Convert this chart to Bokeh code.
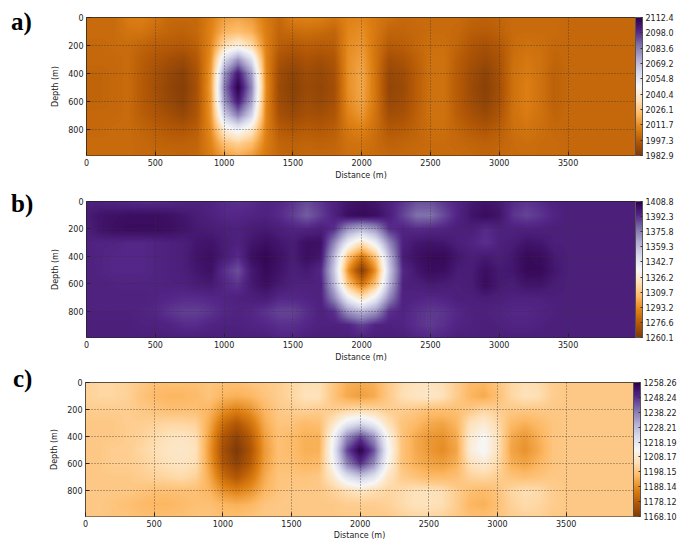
import numpy as np
from bokeh.plotting import figure
from bokeh.layouts import column, row
from bokeh.models import (Range1d, LinearColorMapper, ColorBar, FixedTicker,
                          PrintfTickFormatter, Div)
from bokeh.embed import file_html
from bokeh.resources import INLINE

# grid nodes (m)
distance_nodes = list(range(0, 4001, 100))   # 41 columns
depth_nodes = list(range(0, 1001, 100))      # 11 rows
x_ticks = [0, 500, 1000, 1500, 2000, 2500, 3000, 3500]
y_ticks = [0, 200, 400, 600, 800]

# panel a) values, one row per depth node
a_values = [
    [2002,2002,2002,2007,2008,2005,2001,2001,2001,2008,2016,2018,2015,2007,2001,2008,2009,2008,2005,2009,2010,2006,2003,2001,2002,2002,2002,2002,2000,1999,2000,2002,2002,2002,2002,2001,2001,2001,2001,2001,2001],
    [2002,2002,2002,2005,2005,2002,2000,1999,2001,2009,2021,2024,2020,2008,2000,2002,2003,2002,2000,2010,2012,2006,2000,2000,2001,2002,2002,2001,1998,1997,1999,2002,2002,2002,2002,2001,2001,2001,2001,2001,2001],
    [2001,2001,2002,2002,2000,1998,1997,1996,1999,2010,2034,2043,2033,2009,1998,1996,1998,1997,1998,2011,2014,2005,1997,1998,2001,2003,2003,2000,1995,1993,1996,2002,2004,2003,2001,2001,2001,2001,2001,2001,2001],
    [2001,2001,2001,2002,1998,1995,1992,1990,1996,2012,2060,2079,2058,2010,1994,1991,1994,1992,1995,2012,2016,2005,1992,1994,1999,2004,2004,1998,1993,1990,1994,2003,2006,2004,2000,2001,2001,2001,2001,2001,2001],
    [2000,2000,2001,2002,1997,1993,1989,1986,1994,2014,2079,2104,2076,2011,1991,1987,1991,1989,1993,2012,2018,2005,1989,1991,1998,2004,2004,1997,1991,1987,1993,2004,2007,2004,1999,2001,2001,2001,2001,2001,2001],
    [2000,2000,2001,2002,1997,1992,1988,1985,1993,2015,2085,2112,2082,2012,1990,1986,1990,1988,1992,2012,2018,2005,1988,1990,1998,2004,2004,1997,1990,1986,1992,2004,2008,2004,1999,2001,2001,2001,2001,2001,2001],
    [2000,2000,2001,2002,1997,1993,1989,1986,1994,2014,2079,2104,2076,2011,1991,1987,1991,1989,1993,2011,2017,2005,1989,1991,1998,2004,2004,1997,1991,1987,1993,2004,2008,2004,1999,2001,2001,2001,2001,2001,2001],
    [2001,2001,2001,2002,1998,1995,1992,1989,1995,2013,2064,2084,2062,2010,1993,1990,1993,1992,1995,2009,2014,2004,1992,1993,1999,2004,2004,1998,1993,1990,1995,2004,2007,2004,2000,2001,2001,2001,2001,2001,2001],
    [2001,2001,2002,2002,2000,1998,1996,1995,1998,2011,2042,2052,2040,2009,1997,1995,1997,1996,1998,2006,2009,2003,1996,1997,2000,2003,2003,2000,1997,1995,1998,2003,2005,2003,2001,2001,2001,2001,2001,2001,2001],
    [2002,2002,2002,2002,2001,2000,1999,1999,2000,2009,2025,2030,2024,2008,2000,1999,2000,1999,2000,2004,2005,2002,1999,2000,2001,2002,2002,2001,2000,1999,2000,2002,2003,2002,2002,2001,2001,2001,2001,2001,2001],
    [2002,2002,2002,2002,2001,2001,2001,2000,2001,2007,2015,2018,2014,2006,2001,2000,2001,2001,2001,2003,2003,2002,2001,2001,2002,2002,2002,2002,2001,2000,2001,2002,2002,2002,2002,2001,2001,2001,2001,2001,2001],
]
a_bar_ticks = [1982.9, 1997.3, 2011.7, 2026.1, 2040.4, 2054.8, 2069.2, 2083.6, 2098.0, 2112.4]

# panel b) values
b_values = [
    [1396,1396,1395,1394,1393,1393,1394,1395,1396,1395,1393,1392,1393,1395,1394,1391,1387,1391,1396,1400,1402,1400,1396,1391,1386,1386,1391,1395,1399,1401,1399,1393,1391,1393,1396,1397,1397,1397,1397,1397,1397],
    [1398,1401,1402,1403,1403,1403,1402,1400,1398,1396,1394,1394,1395,1396,1393,1389,1383,1389,1396,1403,1405,1403,1397,1388,1379,1379,1387,1395,1401,1404,1401,1391,1388,1391,1395,1397,1397,1397,1397,1397,1397],
    [1397,1401,1403,1404,1404,1404,1403,1401,1399,1398,1397,1396,1398,1399,1397,1395,1395,1397,1392,1370,1361,1370,1392,1395,1393,1394,1395,1397,1397,1393,1396,1396,1396,1396,1397,1397,1397,1397,1397,1397,1397],
    [1396,1395,1395,1394,1394,1395,1396,1397,1400,1401,1398,1396,1400,1403,1400,1398,1403,1402,1373,1340,1321,1340,1373,1396,1400,1401,1400,1397,1395,1392,1396,1398,1401,1400,1397,1397,1397,1397,1397,1397,1397],
    [1396,1395,1394,1394,1394,1395,1396,1397,1401,1403,1398,1393,1403,1406,1402,1398,1403,1400,1360,1309,1286,1309,1360,1398,1402,1405,1405,1400,1397,1399,1397,1400,1405,1404,1399,1397,1397,1397,1397,1397,1397],
    [1396,1395,1394,1394,1394,1395,1396,1397,1400,1402,1392,1386,1399,1405,1401,1397,1399,1394,1355,1295,1262,1295,1355,1394,1400,1404,1403,1398,1398,1403,1399,1400,1405,1405,1400,1397,1397,1397,1397,1397,1397],
    [1396,1396,1395,1395,1395,1395,1396,1396,1398,1399,1394,1391,1399,1403,1399,1396,1396,1396,1360,1309,1286,1309,1360,1396,1397,1399,1398,1397,1398,1404,1399,1398,1401,1401,1398,1397,1397,1397,1397,1397,1397],
    [1396,1396,1396,1396,1396,1395,1394,1393,1393,1394,1395,1396,1397,1398,1394,1394,1395,1396,1373,1340,1321,1340,1373,1396,1395,1394,1395,1397,1397,1398,1397,1396,1396,1396,1397,1397,1397,1397,1397,1397,1397],
    [1396,1396,1396,1396,1395,1394,1391,1389,1389,1391,1394,1395,1394,1391,1388,1388,1392,1396,1392,1370,1361,1370,1392,1395,1392,1390,1391,1394,1396,1396,1395,1394,1394,1395,1396,1397,1397,1397,1397,1397,1397],
    [1397,1397,1397,1397,1396,1396,1395,1393,1393,1395,1396,1396,1395,1394,1392,1392,1394,1396,1396,1395,1389,1395,1396,1395,1392,1390,1392,1395,1396,1397,1396,1395,1395,1396,1397,1397,1397,1397,1397,1397,1397],
    [1397,1397,1397,1397,1397,1397,1397,1397,1397,1397,1397,1397,1397,1397,1395,1395,1397,1397,1397,1397,1396,1397,1397,1397,1395,1394,1395,1397,1397,1397,1397,1397,1397,1397,1397,1397,1397,1397,1397,1397,1397],
]
b_bar_ticks = [1260.1, 1276.6, 1293.2, 1309.7, 1326.2, 1342.7, 1359.3, 1375.8, 1392.3, 1408.8]

# panel c) values
c_values = [
    [1201,1202,1202,1201,1199,1197,1197,1197,1197,1198,1197,1197,1198,1199,1200,1202,1204,1204,1199,1194,1193,1194,1199,1203,1205,1205,1204,1200,1196,1195,1198,1202,1204,1203,1200,1199,1199,1199,1199,1199,1199],
    [1201,1202,1202,1201,1198,1196,1195,1195,1196,1198,1195,1194,1195,1198,1200,1202,1205,1205,1198,1193,1191,1193,1199,1204,1206,1207,1205,1200,1195,1193,1197,1202,1205,1204,1200,1199,1199,1199,1199,1199,1199],
    [1200,1200,1200,1200,1199,1198,1197,1197,1197,1195,1189,1186,1189,1195,1199,1200,1201,1200,1200,1202,1203,1202,1200,1200,1199,1197,1197,1197,1199,1202,1200,1199,1199,1199,1199,1199,1199,1199,1199,1199,1199],
    [1199,1199,1199,1200,1200,1201,1202,1202,1201,1193,1182,1177,1183,1193,1198,1198,1196,1197,1206,1217,1222,1216,1205,1198,1196,1193,1192,1195,1205,1208,1203,1196,1194,1196,1198,1199,1199,1199,1199,1199,1199],
    [1199,1199,1199,1200,1201,1203,1205,1206,1204,1191,1177,1171,1178,1191,1197,1196,1194,1194,1213,1236,1246,1235,1212,1198,1193,1190,1189,1193,1208,1213,1205,1193,1190,1194,1198,1199,1199,1199,1199,1199,1199],
    [1199,1199,1200,1200,1202,1204,1206,1207,1205,1190,1175,1168,1176,1190,1197,1196,1194,1194,1216,1245,1258,1244,1215,1198,1193,1190,1188,1192,1209,1214,1205,1192,1189,1193,1198,1199,1199,1199,1199,1199,1199],
    [1199,1199,1200,1200,1201,1203,1205,1206,1204,1191,1177,1171,1178,1191,1197,1197,1195,1196,1213,1237,1248,1236,1212,1198,1194,1192,1191,1194,1205,1208,1203,1194,1192,1195,1198,1199,1199,1199,1199,1199,1199],
    [1199,1199,1199,1199,1200,1201,1202,1203,1201,1193,1182,1177,1183,1193,1198,1198,1198,1199,1207,1219,1225,1219,1206,1200,1198,1196,1196,1197,1201,1202,1200,1198,1197,1198,1199,1199,1199,1199,1199,1199,1199],
    [1199,1199,1199,1199,1198,1197,1197,1197,1197,1195,1189,1186,1189,1195,1198,1199,1199,1199,1201,1204,1206,1204,1202,1203,1205,1205,1204,1200,1197,1196,1198,1202,1204,1203,1200,1199,1199,1199,1199,1199,1199],
    [1199,1199,1198,1197,1196,1195,1195,1196,1197,1197,1195,1194,1195,1198,1199,1199,1199,1199,1199,1200,1200,1200,1201,1203,1205,1205,1204,1200,1195,1194,1197,1201,1203,1202,1200,1199,1199,1199,1199,1199,1199],
    [1199,1199,1198,1198,1197,1197,1197,1197,1198,1198,1197,1197,1198,1199,1199,1199,1199,1199,1199,1199,1199,1199,1199,1201,1202,1202,1201,1199,1197,1197,1198,1200,1201,1201,1199,1199,1199,1199,1199,1199,1199],
]
c_bar_ticks = [1168.10, 1178.12, 1188.14, 1198.15, 1208.17, 1218.19, 1228.21, 1238.22, 1248.24, 1258.26]

for grid in (a_values, b_values, c_values):
    assert len(grid) == len(depth_nodes), len(grid)
    for r in grid:
        assert len(r) == len(distance_nodes), len(r)

PUOR11 = ["#7f3b08", "#b35806", "#e08214", "#fdb863", "#fee0b6", "#f7f7f7",
          "#d8daeb", "#b2abd2", "#8073ac", "#542788", "#2d004b"]


def ramp(colors, n=256):
    rgb = np.array([[int(c[i:i + 2], 16) for i in (1, 3, 5)] for c in colors], float)
    pos = np.linspace(0, 1, len(colors))
    out = []
    for t in np.linspace(0, 1, n):
        r, g, b = (np.interp(t, pos, rgb[:, k]) for k in range(3))
        out.append("#%02x%02x%02x" % (int(round(r)), int(round(g)), int(round(b))))
    return out


def shade(values, nx=820, nz=220):
    """Bilinear display shading of the gridded values (like imshow 'bilinear')."""
    arr = np.array(values, float)
    xs = np.linspace(distance_nodes[0], distance_nodes[-1], nx)
    zs = np.linspace(depth_nodes[0], depth_nodes[-1], nz)
    tmp = np.array([np.interp(xs, distance_nodes, r) for r in arr])
    return np.array([np.interp(zs, depth_nodes, tmp[:, j]) for j in range(nx)]).T


PALETTE = ramp(PUOR11)
FONT = "DejaVu Sans"
X_END, Y_END = 3990, 990
LETTER_W = 40


def make_panel(values, bar_ticks, fmt, height, top, bottom, left, right, xlabel_standoff):
    p = figure(width=681 - LETTER_W, height=height, x_range=Range1d(0, X_END),
               y_range=Range1d(Y_END, 0), output_backend="svg",
               toolbar_location=None, tools="",
               min_border_left=left, min_border_right=right,
               min_border_top=top, min_border_bottom=bottom, margin=0)
    p.background_fill_color = "white"
    p.border_fill_color = "white"
    p.outline_line_color = "#222222"
    p.outline_line_width = 1

    mapper = LinearColorMapper(palette=PALETTE, low=bar_ticks[0], high=bar_ticks[-1])
    p.image(image=[shade(values)],
            x=distance_nodes[0], y=depth_nodes[0],
            dw=distance_nodes[-1] - distance_nodes[0],
            dh=depth_nodes[-1] - depth_nodes[0],
            color_mapper=mapper)

    p.xaxis.ticker = FixedTicker(ticks=x_ticks)
    p.yaxis.ticker = FixedTicker(ticks=y_ticks)
    for ax in (p.xaxis[0], p.yaxis[0]):
        ax.major_label_text_font = FONT
        ax.major_label_text_font_size = "8px"
        ax.major_label_text_color = "#222222"
        ax.axis_line_color = None
        ax.major_tick_in = 4
        ax.major_tick_out = 0
        ax.major_tick_line_color = "#222222"
        ax.minor_tick_line_color = None
        ax.major_label_standoff = 3
        ax.axis_label_text_font = FONT
        ax.axis_label_text_font_size = "8px"
        ax.axis_label_text_font_style = "normal"
        ax.axis_label_text_color = "#222222"
    p.yaxis.axis_label = "Depth (m)"
    p.yaxis.axis_label_standoff = 5
    p.xaxis.axis_label = "Distance (m)"
    p.xaxis.axis_label_standoff = xlabel_standoff

    p.grid.grid_line_color = "#333333"
    p.grid.grid_line_alpha = 0.7
    p.grid.grid_line_dash = "1 2"
    p.grid.level = "overlay"

    cb = ColorBar(color_mapper=mapper, ticker=FixedTicker(ticks=bar_ticks),
                  formatter=PrintfTickFormatter(format=fmt),
                  width=7, padding=0, margin=2, label_standoff=3,
                  major_label_text_font=FONT, major_label_text_font_size="8px",
                  major_label_text_color="#222222",
                  major_tick_line_color="#333333", major_tick_in=2, major_tick_out=0,
                  minor_tick_line_color=None, bar_line_color="#555555",
                  border_line_color=None, background_fill_color=None)
    p.add_layout(cb, "right")
    return p


def letter_div(text, height, pad_top, pad_left):
    return Div(text=text, width=LETTER_W, height=height, margin=0,
               styles={"font-family": "'Liberation Serif', serif",
                       "font-weight": "bold", "font-size": "25px",
                       "line-height": "25px", "color": "black",
                       "padding-top": f"{pad_top}px", "padding-left": f"{pad_left}px",
                       "box-sizing": "border-box"})


pa = make_panel(a_values, a_bar_ticks, "%.1f", 182, 17, 27, 46, 46, 2)
pb = make_panel(b_values, b_bar_ticks, "%.1f", 182, 19, 25, 46, 46, 2)
pc = make_panel(c_values, c_bar_ticks, "%.2f", 178, 18, 23, 45, 48, 1)

layout = column(
    row(letter_div("a)", 182, 9, 11), pa, spacing=0),
    row(letter_div("b)", 182, 9, 11), pb, spacing=0),
    row(letter_div("c)", 178, 2, 13), pc, spacing=0),
    spacing=0,
)
open("out.html", "w").write(file_html(layout, INLINE))
